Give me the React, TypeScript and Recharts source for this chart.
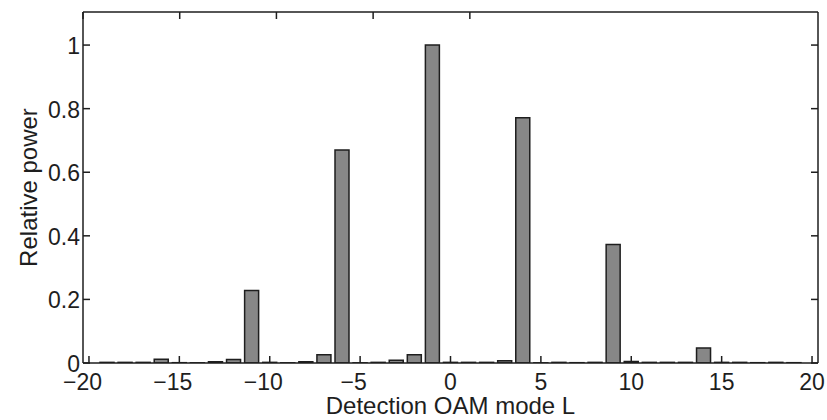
import { BarChart, Bar, XAxis, YAxis } from 'recharts';

// detection OAM modes and their relative power
const modes = [
  -19, -18, -17, -16, -15, -14, -13, -12, -11, -10, -9, -8, -7, -6, -5, -4, -3, -2, -1,
  0, 1, 2, 3, 4, 5, 6, 7, 8, 9, 10, 11, 12, 13, 14, 15, 16, 17, 18, 19,
];
const power = [
  0.002, 0.002, 0.002, 0.012, 0.001, 0.0005, 0.004, 0.011, 0.228, 0.002, 0.0005, 0.004, 0.026,
  0.67, 0.0005, 0.002, 0.009, 0.026, 1.0, 0.002, 0.002, 0.002, 0.007, 0.771, 0.0005, 0.002,
  0.001, 0.002, 0.373, 0.005, 0.002, 0.002, 0.002, 0.047, 0.002, 0.002, 0.001, 0.002, 0.001,
];

const xTicks = [-20, -15, -10, -5, 0, 5, 10, 15, 20];
const xTickLabels = ['\u221220', '\u221215', '\u221210', '\u22125', '0', '5', '10', '15', '20'];
const yTicks = [0, 0.2, 0.4, 0.6, 0.8, 1];
const yTickLabels = ['0', '0.2', '0.4', '0.6', '0.8', '1'];

const data = modes.map((mode, i) => ({ mode, power: power[i] }));

const INK = '#1e1e1e';
const FONT = '"Liberation Sans", Arial, Helvetica, sans-serif';
const X_DOMAIN: [number, number] = [-20.33, 20.33];
const Y_DOMAIN: [number, number] = [0, 1.104];
const TICK_LEN = 7;

// eslint-disable-next-line @typescript-eslint/no-explicit-any
function BottomTick({ x, y, payload }: any) {
  const label = xTickLabels[xTicks.indexOf(payload.value)];
  // matlab centres the digits, the minus sign hangs to the left
  const dx = label.startsWith('\u2212') ? -6.5 : 0;
  return (
    <g>
      <line x1={x} y1={y} x2={x} y2={y - TICK_LEN} stroke={INK} strokeWidth={1.5} />
      <text x={x + dx} y={y + 27} textAnchor="middle" fill={INK} fontSize={23} fontFamily={FONT}>
        {label}
      </text>
    </g>
  );
}

// eslint-disable-next-line @typescript-eslint/no-explicit-any
function TopTick({ x, y }: any) {
  return <line x1={x} y1={y} x2={x} y2={y + TICK_LEN} stroke={INK} strokeWidth={1.5} />;
}

// eslint-disable-next-line @typescript-eslint/no-explicit-any
function LeftTick({ x, y, payload }: any) {
  const label = yTickLabels[yTicks.indexOf(payload.value)];
  return (
    <g>
      <line x1={x} y1={y} x2={x + TICK_LEN} y2={y} stroke={INK} strokeWidth={1.5} />
      <text x={x - 3} y={y + 9} textAnchor="end" fill={INK} fontSize={23} fontFamily={FONT}>
        {label}
      </text>
    </g>
  );
}

// eslint-disable-next-line @typescript-eslint/no-explicit-any
function RightTick({ x, y }: any) {
  return <line x1={x} y1={y} x2={x - TICK_LEN} y2={y} stroke={INK} strokeWidth={1.5} />;
}

// eslint-disable-next-line @typescript-eslint/no-explicit-any
function XTitle({ viewBox }: any) {
  return (
    <text
      x={viewBox.x + viewBox.width / 2}
      y={414}
      textAnchor="middle"
      fill={INK}
      fontSize={24}
      fontFamily={FONT}
    >
      Detection OAM mode L
    </text>
  );
}

// eslint-disable-next-line @typescript-eslint/no-explicit-any
function YTitle({ viewBox }: any) {
  const cy = viewBox.y + viewBox.height / 2;
  return (
    <text
      x={37}
      y={cy}
      transform={`rotate(-90 37 ${cy})`}
      textAnchor="middle"
      fill={INK}
      fontSize={24}
      fontFamily={FONT}
    >
      Relative power
    </text>
  );
}

export default function App() {
  return (
    <div style={{ position: 'absolute', left: 0, top: 0, background: '#fff' }}>
      <BarChart
        width={827}
        height={420}
        data={data}
        margin={{ top: 2, right: 4, left: 23, bottom: 27 }}
      >
        <XAxis
          xAxisId="bottom"
          dataKey="mode"
          type="number"
          domain={X_DOMAIN}
          allowDataOverflow
          ticks={xTicks}
          interval={0}
          height={30}
          tickSize={0}
          tickMargin={0}
          tickLine={false}
          axisLine={{ stroke: INK, strokeWidth: 1.5 }}
          tick={<BottomTick />}
          label={<XTitle />}
        />
        <XAxis
          xAxisId="top"
          orientation="top"
          type="number"
          domain={X_DOMAIN}
          allowDataOverflow
          ticks={xTicks}
          interval={0}
          height={10}
          tickSize={0}
          tickMargin={0}
          tickLine={false}
          axisLine={{ stroke: INK, strokeWidth: 1.5 }}
          tick={<TopTick />}
        />
        <YAxis
          yAxisId="left"
          type="number"
          domain={Y_DOMAIN}
          allowDataOverflow
          ticks={yTicks}
          interval={0}
          width={60}
          tickSize={0}
          tickMargin={0}
          tickLine={false}
          axisLine={{ stroke: INK, strokeWidth: 1.5 }}
          tick={<LeftTick />}
          label={<YTitle />}
        />
        <YAxis
          yAxisId="right"
          orientation="right"
          type="number"
          domain={Y_DOMAIN}
          allowDataOverflow
          ticks={yTicks}
          interval={0}
          width={5}
          tickSize={0}
          tickMargin={0}
          tickLine={false}
          axisLine={{ stroke: INK, strokeWidth: 1.5 }}
          tick={<RightTick />}
        />
        <Bar
          xAxisId="bottom"
          yAxisId="left"
          dataKey="power"
          fill="#878787"
          stroke={INK}
          strokeWidth={1.5}
          barSize={14}
          isAnimationActive={false}
        />
      </BarChart>
    </div>
  );
}
